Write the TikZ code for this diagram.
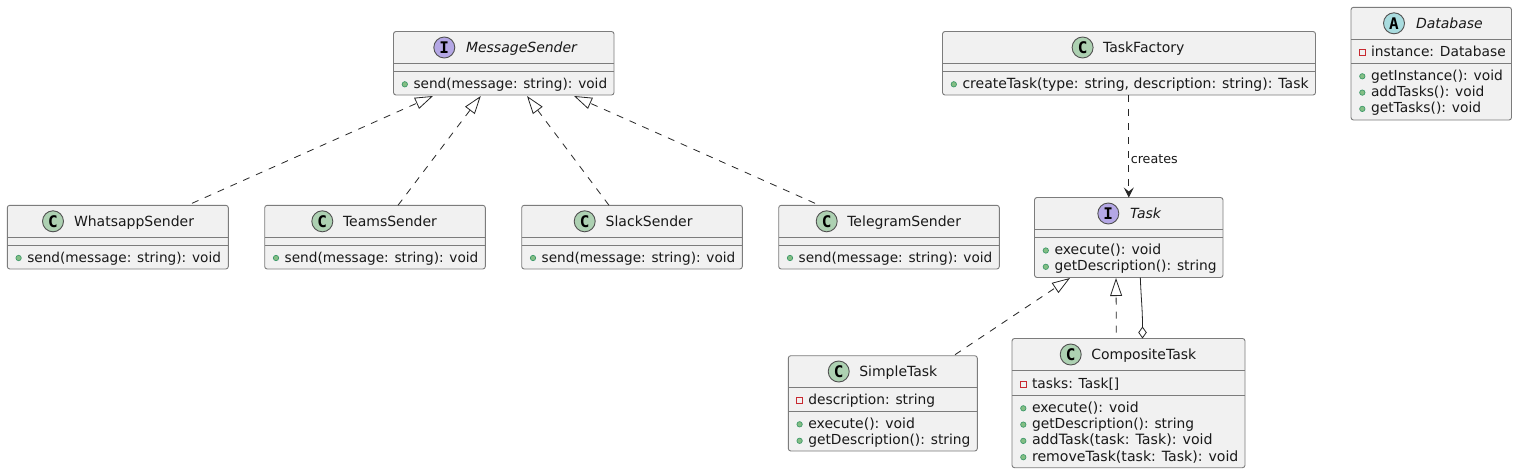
\documentclass[tikz,border=0pt]{standalone}
\usepackage{fontspec}
\setmainfont{DejaVu Sans}
\newfontfamily\iconfont{DejaVu Sans Mono}
\usetikzlibrary{arrows.meta}
\definecolor{edge}{HTML}{262626}
\definecolor{boxline}{HTML}{7C7C7C}
\definecolor{boxfill}{HTML}{F1F1F1}
\definecolor{classc}{HTML}{ADD1B2}
\definecolor{ifacec}{HTML}{B4A7E5}
\definecolor{absc}{HTML}{A9DCDF}
\definecolor{pubfill}{HTML}{84BE84}
\definecolor{publine}{HTML}{3F9A6B}
\definecolor{privline}{HTML}{C82930}
\newcommand{\fs}[1]{\fontsize{#1}{16}\selectfont}
\tikzset{
  x=1pt,y=-1pt,
  umlbox/.style={draw=boxline,fill=boxfill,line width=0.9pt,rounded corners=2.5pt,inner sep=0pt,outer sep=0pt},
  divider/.style={draw=boxline,line width=0.9pt},
  txt/.style={anchor=base west,inner sep=0pt,outer sep=0pt,font=\fs{13.8},text=black!90},
  icon/.style={circle,draw=edge!80,line width=0.9pt,minimum size=21pt,inner sep=0pt,text=black,font=\iconfont\bfseries\fontsize{16}{16}\selectfont},
  realize/.style={edge,line width=0.8pt,dash pattern=on 7pt off 7pt,-{Triangle[open,fill=white,length=18pt,width=12pt]}},
  depend/.style={edge,line width=0.8pt,dash pattern=on 7pt off 7pt,-{Stealth[length=10pt,width=10pt,inset=4pt]}},
  aggreg/.style={edge,line width=0.8pt,-{Diamond[open,fill=white,length=12pt,width=8.5pt]}},
  lbl/.style={anchor=base west,inner sep=0pt,outer sep=0pt,font=\fontsize{12.7}{15}\selectfont,text=black!90}
}
% name, left, top, right, bottom
\newcommand{\umlrect}[5]{%
  \pgfmathsetmacro{\bw}{#4-#2}\pgfmathsetmacro{\bh}{#5-#3}%
  \pgfmathsetmacro{\bx}{(#2+#4)/2}\pgfmathsetmacro{\by}{(#3+#5)/2}%
  \node[umlbox,minimum width=\bw pt,minimum height=\bh pt] (#1) at (\bx,\by) {};}
% left, right, y
\newcommand{\umldiv}[3]{\draw[divider] (#1,#3) -- (#2,#3);}
% name, colour, letter, cx, cy, text x, baseline, text
\newcommand{\umltitle}[8]{%
  \node[icon,fill=#2] (#1-icon) at (#4,#5) {#3};
  \node[txt] (#1-title) at (#6,#7) {\fs{14}#8};}
% name, left, baseline, text
\newcommand{\pubm}[4]{%
  \filldraw[fill=pubfill,draw=publine,line width=0.7pt] ({#2+11.3},{#3-4}) circle (2.7pt);
  \node[txt] (#1) at ({#2+20},#3) {#4};}
\newcommand{\privm}[4]{%
  \draw[privline,line width=0.9pt] ({#2+8.3},{#3-7}) rectangle ({#2+14.3},{#3-1});
  \node[txt] (#1) at ({#2+20},#3) {#4};}
\newcommand{\sendtxt}{\fs{13.65}send(message: string): void}
\begin{document}
\begin{tikzpicture}
\fill[white] (0,0) rectangle (1517,474);
\useasboundingbox (0,0) rectangle (1517,474);

% MessageSender
\umlrect{ms}{393.5}{31.5}{614}{95}
\umldiv{393.5}{614}{63.3}\umldiv{393.5}{614}{71.5}
\umltitle{ms}{ifacec}{I}{444.3}{47.5}{466}{52.5}{\itshape MessageSender}
\pubm{ms-m1}{393.5}{88.3}{\sendtxt}

% Senders
\umlrect{wa}{7.3}{205.3}{228.3}{269}
\umldiv{7.3}{228.3}{237.3}\umldiv{7.3}{228.3}{245.3}
\umltitle{wa}{classc}{C}{53}{221.3}{74}{226.3}{WhatsappSender}
\pubm{wa-m1}{7.3}{262}{\sendtxt}

\umlrect{te}{264.7}{205.3}{485.3}{269}
\umldiv{264.7}{485.3}{237.3}\umldiv{264.7}{485.3}{245.3}
\umltitle{te}{classc}{C}{322.3}{221.3}{343}{226.3}{TeamsSender}
\pubm{te-m1}{264.7}{262}{\sendtxt}

\umlrect{sl}{521.7}{205.3}{742.3}{269}
\umldiv{521.7}{742.3}{237.3}\umldiv{521.7}{742.3}{245.3}
\umltitle{sl}{classc}{C}{584.7}{221.3}{605.7}{226.3}{SlackSender}
\pubm{sl-m1}{521.7}{262}{\sendtxt}

\umlrect{tg}{778.7}{205.3}{999.3}{269}
\umldiv{778.7}{999.3}{237.3}\umldiv{778.7}{999.3}{245.3}
\umltitle{tg}{classc}{C}{826.7}{221.3}{847.3}{226.3}{TelegramSender}
\pubm{tg-m1}{778.7}{262}{\sendtxt}

% TaskFactory
\umlrect{tf}{942.5}{31.5}{1315.5}{95}
\umldiv{942.5}{1315.5}{63.3}\umldiv{942.5}{1315.5}{71.5}
\umltitle{tf}{classc}{C}{1082.6}{47.5}{1103}{52.5}{TaskFactory}
\pubm{tf-m1}{942.5}{88.3}{\fs{14}createTask(type: string, description: string): Task}

% Database
\umlrect{db}{1351}{7.3}{1511.5}{120}
\umldiv{1351}{1511.5}{39.3}\umldiv{1351}{1511.5}{63.3}
\umltitle{db}{absc}{A}{1394}{23.3}{1416}{28.3}{\itshape Database}
\privm{db-m1}{1351}{56.3}{instance: Database}
\pubm{db-m2}{1351}{80.3}{getInstance(): void}
\pubm{db-m3}{1351}{96.6}{addTasks(): void}
\pubm{db-m4}{1351}{112.9}{getTasks(): void}

% Task
\umlrect{ta}{1034.5}{197.5}{1223}{277.5}
\umldiv{1034.5}{1223}{229.5}\umldiv{1034.5}{1223}{237.5}
\umltitle{ta}{ifacec}{I}{1108.3}{213.5}{1130}{218.5}{\itshape Task}
\pubm{ta-m1}{1034.5}{254.5}{\fs{14}execute(): void}
\pubm{ta-m2}{1034.5}{270.8}{getDescription(): string}

% SimpleTask
\umlrect{si}{788.3}{355.7}{977.3}{451}
\umldiv{788.3}{977.3}{387.5}\umldiv{788.3}{977.3}{411.3}
\umltitle{si}{classc}{C}{838.7}{371.5}{859.3}{376.6}{SimpleTask}
\privm{si-m1}{788.3}{404.4}{description: string}
\pubm{si-m2}{788.3}{428.3}{\fs{14}execute(): void}
\pubm{si-m3}{788.3}{444.8}{getDescription(): string}

% CompositeTask
\umlrect{co}{1012}{338.5}{1245}{467.7}
\umldiv{1012}{1245}{370.7}\umldiv{1012}{1245}{395.3}
\umltitle{co}{classc}{C}{1070.7}{354.5}{1091.3}{359.7}{CompositeTask}
\privm{co-m1}{1012}{388.3}{tasks: Task[]}
\pubm{co-m2}{1012}{412.3}{\fs{14}execute(): void}
\pubm{co-m3}{1012}{428.6}{getDescription(): string}
\pubm{co-m4}{1012}{444.9}{\fs{14.2}addTask(task: Task): void}
\pubm{co-m5}{1012}{461.2}{\fs{14.1}removeTask(task: Task): void}

% Connectors
\draw[realize] ([xshift=74.2pt,yshift=2pt]wa.north) -- ([xshift=-70.75pt,yshift=-1pt]ms.south);
\draw[realize] ([xshift=23pt]te.north) -- ([xshift=-23pt,yshift=-1pt]ms.south);
\draw[realize] ([xshift=-23pt]sl.north) -- ([xshift=23.25pt,yshift=-1pt]ms.south);
\draw[realize] ([xshift=-74pt,yshift=2pt]tg.north) -- ([xshift=70.25pt,yshift=-1pt]ms.south);
\draw[depend] (tf.south -| ta.north) -- node[pos=0.62,lbl,anchor=west,xshift=2pt,yshift=-1pt] (creates) {creates} (ta.north);
\draw[realize] ([xshift=72.2pt,yshift=1pt]si.north) -- ([xshift=-58.75pt,yshift=-0.5pt]ta.south);
\draw[realize] ([xshift=-12.2pt,yshift=6pt]co.north) -- ([xshift=-12.75pt,yshift=-0.5pt]ta.south);
\draw[aggreg] ([xshift=11.55pt]ta.south) .. controls ([xshift=12.5pt,yshift=-24pt]ta.south) and ([xshift=14pt,yshift=30pt]co.north) .. ([xshift=14pt]co.north);
\end{tikzpicture}
\end{document}
